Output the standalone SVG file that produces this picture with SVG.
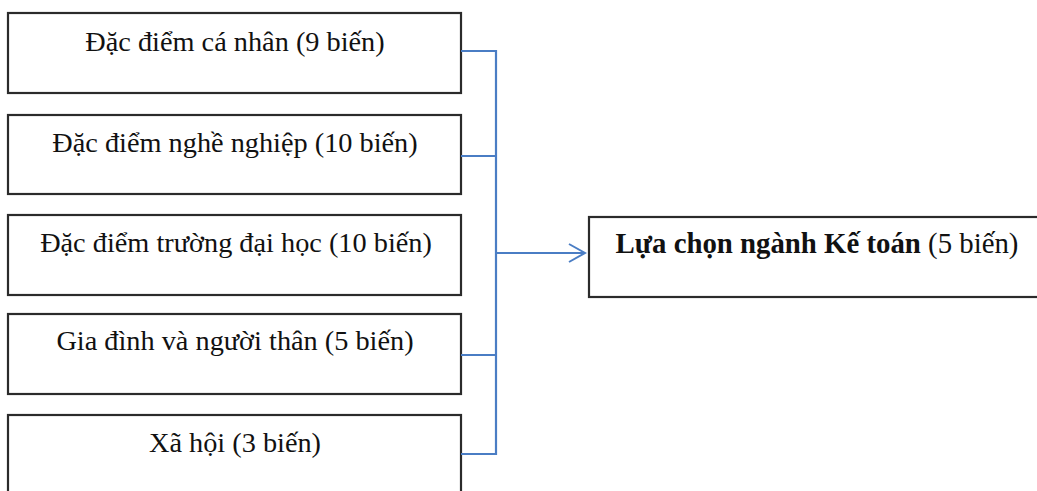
<svg xmlns="http://www.w3.org/2000/svg" width="1037" height="491" viewBox="0 0 1037 491">
<style>
.box{fill:#fff;stroke:#2b2b2b;stroke-width:2.2}
.t{font-family:"Liberation Serif","Times New Roman",serif;font-size:28.3px;fill:#111;text-anchor:middle}
.b{font-weight:bold}
.c{fill:none;stroke:#4a7dc4;stroke-width:2.2}
</style>
<defs>
<marker id="arr" viewBox="0 0 20 20" refX="18" refY="10" markerWidth="20" markerHeight="20" markerUnits="userSpaceOnUse" orient="auto">
<path d="M2,1 L18,10 L2,19" fill="none" stroke="#4a7dc4" stroke-width="2"/>
</marker>
</defs>
<rect width="1037" height="491" fill="#fff"/>
<g id="n1"><rect class="box" x="8" y="13" width="453" height="80"/><text class="t" x="235" y="51">Đặc điểm cá nhân (9 biến)</text></g>
<g id="n2"><rect class="box" x="8" y="115" width="453" height="79"/><text class="t" x="235" y="152">Đặc điểm nghề nghiệp (10 biến)</text></g>
<g id="n3"><rect class="box" x="8" y="215" width="453" height="80"/><text class="t" x="236" y="252">Đặc điểm trường đại học (10 biến)</text></g>
<g id="n4"><rect class="box" x="8" y="314" width="453" height="80"/><text class="t" x="235" y="350">Gia đình và người thân (5 biến)</text></g>
<g id="n5"><rect class="box" x="8" y="415" width="453" height="85"/><text class="t" x="235" y="452">Xã hội (3 biến)</text></g>
<g id="n6"><rect class="box" x="589" y="217" width="456" height="80"/><text class="t" x="817" y="253" style="font-size:28.8px"><tspan class="b">Lựa chọn ngành Kế toán</tspan> (5 biến)</text></g>
<g id="connectors">
<path class="c" d="M461,51 H496 V454 H461 M461,156 H496 M461,355 H496"/>
<path class="c" d="M496,253 H585" marker-end="url(#arr)"/>
</g>
</svg>
